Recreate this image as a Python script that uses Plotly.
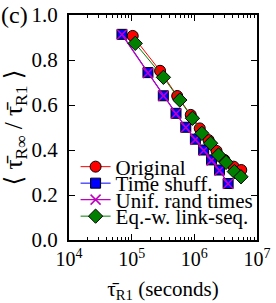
import plotly.graph_objects as go

# Data
orig_x = [1.04e5, 2.84e5, 5.33e5, 8.77e5, 1.22e6, 1.69e6, 2.26e6, 3.02e6, 4.24e6, 5.61e6]
orig_y = [0.907, 0.752, 0.640, 0.556, 0.496, 0.444, 0.396, 0.356, 0.326, 0.311]

shuf_x = [7.0e4, 1.82e5, 3.2e5, 5.1e5, 7.3e5, 1.04e6, 1.41e6, 1.88e6, 2.52e6, 3.46e6]
shuf_y = [0.914, 0.744, 0.641, 0.563, 0.501, 0.448, 0.400, 0.356, 0.311, 0.251]

unif_x = [7.0e4, 1.82e5, 3.2e5, 5.1e5, 7.3e5, 1.04e6, 1.41e6, 1.88e6, 2.52e6, 3.46e6]
unif_y = [0.913, 0.742, 0.640, 0.561, 0.500, 0.446, 0.398, 0.354, 0.309, 0.250]

eqw_x = [1.14e5, 3.21e5, 5.87e5, 9.33e5, 1.32e6, 1.82e6, 2.43e6, 3.21e6, 4.35e6, 5.55e6]
eqw_y = [0.874, 0.723, 0.622, 0.541, 0.474, 0.430, 0.378, 0.345, 0.304, 0.281]

x_tickvals = [1e4, 1e5, 1e6, 1e7]
x_ticktext = ["10<sup>4</sup>", "10<sup>5</sup>", "10<sup>6</sup>", "10<sup>7</sup>"]
y_tickvals = [0.0, 0.2, 0.4, 0.6, 0.8, 1.0]
y_ticktext = ["0.0", "0.2", "0.4", "0.6", "0.8", "1.0"]

FONT = "'Liberation Serif', 'DejaVu Serif', serif"

fig = go.Figure()
fig.add_trace(go.Scatter(
    x=orig_x, y=orig_y, mode="lines+markers", name="Original", legend="legend",
    line=dict(color="#ff0000", width=1),
    marker=dict(symbol="circle", size=11, color="#ff0000", line=dict(color="black", width=1))))
fig.add_trace(go.Scatter(
    x=shuf_x, y=shuf_y, mode="lines+markers", name="Time shuff.", legend="legend2",
    line=dict(color="#0000ff", width=1),
    marker=dict(symbol="square", size=10, color="#0000ff", line=dict(color="black", width=1))))
fig.add_trace(go.Scatter(
    x=unif_x, y=unif_y, mode="lines+markers", name="Unif. rand times", legend="legend3",
    line=dict(color="#bf00bf", width=1.2),
    marker=dict(symbol="x-thin", size=10, color="#bf00bf", line=dict(color="#bf00bf", width=1.5))))
fig.add_trace(go.Scatter(
    x=eqw_x, y=eqw_y, mode="lines+markers", name="Eq.-w. link-seq.", legend="legend4",
    line=dict(color="#007f00", width=1),
    marker=dict(symbol="diamond", size=11, color="#007f00", line=dict(color="black", width=1))))

leg_common = dict(x=0.035, xanchor="left", yanchor="middle", bgcolor="rgba(0,0,0,0)",
                  font=dict(family=FONT, size=21, color="black"), borderwidth=0)

fig.update_layout(
    width=276, height=303,
    showlegend=True,
    margin=dict(l=69, r=19, t=15, b=63, autoexpand=False),
    paper_bgcolor="white", plot_bgcolor="white",
    font=dict(family=FONT, color="black"),
    legend=dict(y=(240 - 167) / 225, **leg_common),
    legend2=dict(y=(240 - 183.5) / 225, **leg_common),
    legend3=dict(y=(240 - 200) / 225, **leg_common),
    legend4=dict(y=(240 - 216.5) / 225, **leg_common),
    xaxis=dict(
        type="log", range=[4, 7],
        tickvals=x_tickvals, ticktext=x_ticktext,
        ticks="inside", ticklen=6, tickwidth=1, tickcolor="black",
        showline=True, linewidth=2, linecolor="black", mirror="ticks",
        showgrid=False, zeroline=False, automargin=False,
        tickfont=dict(family=FONT, size=20),
        minor=dict(ticks="inside", ticklen=3, tickcolor="black", dtick="D1", showgrid=False),
        title=dict(text="τ̄<sub>R1</sub> (seconds)", font=dict(family=FONT, size=21), standoff=14),
    ),
    yaxis=dict(
        range=[0, 1],
        tickvals=y_tickvals, ticktext=y_ticktext,
        ticks="inside", ticklen=6, tickwidth=1, tickcolor="black",
        showline=True, linewidth=2, linecolor="black", mirror="ticks",
        showgrid=False, zeroline=False, automargin=False,
        tickfont=dict(family=FONT, size=21),
        ticklabelstandoff=5,
        title=dict(text="⟨ τ̄<sub>R∞</sub> / τ̄<sub>R1</sub> ⟩", font=dict(family=FONT, size=25), standoff=2),
    ),
    annotations=[dict(text="(c)", xref="paper", yref="paper", x=(15 - 69) / 188, y=1.0,
                      xanchor="center", yanchor="middle", showarrow=False,
                      font=dict(family=FONT, size=24, color="black"))],
)

fig.write_html("out.html", post_script="document.body.style.margin='0px';",
               config={"displayModeBar": False})
